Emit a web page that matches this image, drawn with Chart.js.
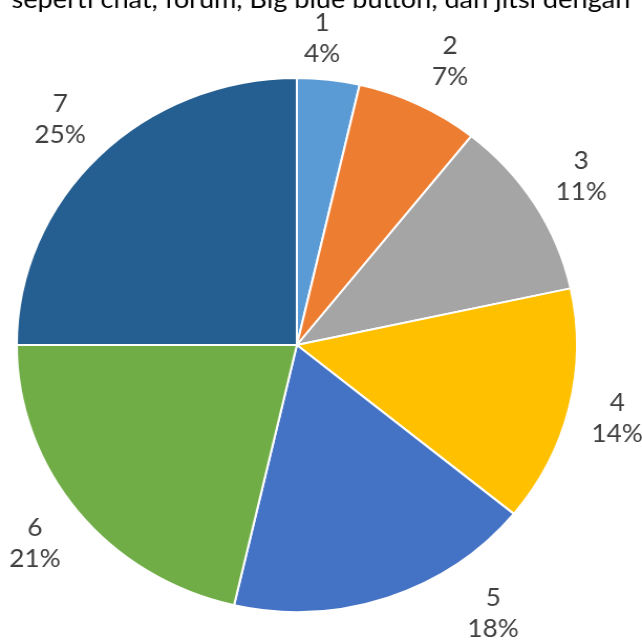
<!DOCTYPE html>
<html>
<head>
<meta charset="utf-8">
<script src="https://cdn.jsdelivr.net/npm/chart.js@4"></script>
<style>
  html, body { margin: 0; padding: 0; background: #ffffff; overflow: hidden; }
  #wrap { width: 612px; height: 640px; transform: scaleX(1.049); transform-origin: 0 0; }
  canvas { display: block; }
</style>
</head>
<body>
<div id="wrap"><canvas id="c" width="612" height="640"></canvas></div>
<script>
const categories = ['1', '2', '3', '4', '5', '6', '7'];
const values = [3.6, 7.1, 10.9, 14.3, 17.7, 21.4, 25.0];
const colors = ['#5B9BD5', '#ED7D31', '#A5A5A5', '#FFC000', '#4472C4', '#70AD47', '#255E91'];
const headerText = 'seperti chat, forum, Big blue button, dan jitsi dengan';

const labelPlugin = {
  id: 'pieLabels',
  afterDatasetsDraw(chart, args, opts) {
    const ctx = chart.ctx;
    const meta = chart.getDatasetMeta(0);
    const data = chart.data.datasets[0].data;
    const total = data.reduce((a, b) => a + b, 0);
    ctx.save();
    ctx.font = opts.font;
    ctx.fillStyle = opts.color;
    ctx.textAlign = 'center';
    ctx.textBaseline = 'middle';
    meta.data.forEach((arc, i) => {
      const p = arc.getProps(['x', 'y', 'startAngle', 'endAngle', 'outerRadius'], true);
      const mid = (p.startAngle + p.endAngle) / 2 + (opts.angleShift[i] || 0) * Math.PI / 180;
      const dist = p.outerRadius * opts.distFactor + (opts.distShift[i] || 0);
      const x = p.x + Math.cos(mid) * dist;
      const y = p.y + Math.sin(mid) * dist;
      const pct = Math.round(data[i] / total * 100) + '%';
      ctx.fillText(chart.data.labels[i], x, y - opts.lineGap / 2);
      ctx.fillText(pct, x, y + opts.lineGap / 2);
    });
    // header text (cut off at top)
    ctx.fillStyle = '#000000';
    ctx.textAlign = 'left';
    ctx.textBaseline = 'alphabetic';
    let size = 28;
    ctx.font = size + 'px Lato';
    const w = ctx.measureText(headerText).width;
    size = size * 590 / w;
    ctx.font = size + 'px Lato';
    ctx.fillText(headerText, 11, 8);
    ctx.restore();
  }
};

new Chart(document.getElementById('c'), {
  type: 'pie',
  data: {
    labels: categories,
    datasets: [{
      data: values,
      backgroundColor: colors,
      borderColor: '#ffffff',
      borderWidth: 2
    }]
  },
  options: {
    responsive: false,
    animation: false,
    devicePixelRatio: 1,
    layout: { padding: { left: 15, right: 61, top: 77, bottom: 27 } },
    plugins: {
      legend: { display: false },
      tooltip: { enabled: false },
      pieLabels: {
        font: '25px Lato',
        color: '#404040',
        lineGap: 31,
        distFactor: 1.195,
        angleShift: { 0: -2, 1: 1.5, 4: -16 },
        distShift: { 0: -12, 3: -5, 4: 8 }
      }
    }
  },
  plugins: [labelPlugin]
});
</script>
</body>
</html>
